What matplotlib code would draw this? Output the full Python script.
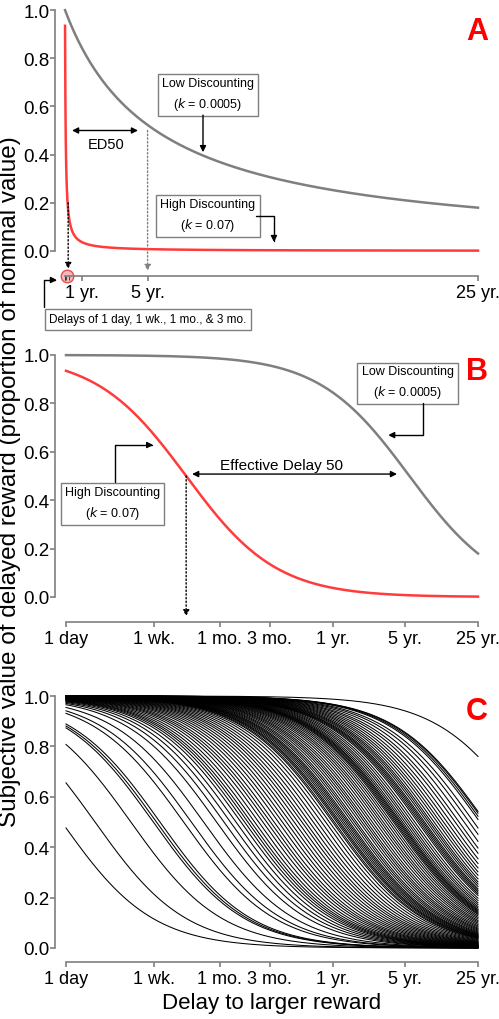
import numpy as np
import matplotlib
matplotlib.use('Agg')
import matplotlib.pyplot as plt
from matplotlib.ticker import FormatStrFormatter
from matplotlib.transforms import blended_transform_factory

plt.rcParams['font.family'] = ['Liberation Sans', 'DejaVu Sans']

W, H = 499, 1020
RED = '#ff3b3b'
GRAY = '#7f7f7f'

# discount rates of the two example curves
k_low = 0.0005
k_high = 0.07

# delays in days
max_delay = 9125
log_ticks = [1, 7, 30, 91, 365, 1825, 9125]
log_labels = ['1 day', '1 wk.', '1 mo.', '3 mo.', '1 yr.', '5 yr.', '25 yr.']
lin_ticks = [365, 1825, 9125]
lin_labels = ['1 yr.', '5 yr.', '25 yr.']
short_delays = [1, 7, 30, 91]

# panel C: ED50 (days, = 1/k) of each participant's curve
ed50_c = [0.91, 1.9, 4.2, 6.9, 7.4, 8.0, 13.5, 16, 21,
          28, 33, 38, 43, 48, 52, 56, 60, 65, 71, 78, 85, 92, 100, 110,
          120, 131, 143, 156, 170, 185, 200, 218, 238, 260, 285, 312, 340, 365,
          380, 400, 415, 430, 450, 470, 490, 510, 530, 560, 590, 620, 660,
          700, 740, 780, 830, 880, 940, 1000, 1060, 1120, 1190, 1260, 1330,
          1400, 1450, 1500, 1550, 1600, 1650, 1720, 1800, 1900, 2000, 2120,
          2250, 2400, 2500, 2600, 2700, 2800, 2950, 3100, 3250, 3450, 3700,
          3950, 4250, 4600, 5000, 5500, 6000, 6700, 7500, 8300,
          9500, 10000, 10500, 10800, 28900]


def hyp(k, d):
    return 1.0 / (1.0 + k * d)


def rect(left, right, top, bottom):
    return [left / W, 1 - bottom / H, (right - left) / W, (bottom - top) / H]


def style(ax, xoff, yoff):
    for s in ['top', 'right']:
        ax.spines[s].set_visible(False)
    for s in ['left', 'bottom']:
        ax.spines[s].set_color(GRAY)
        ax.spines[s].set_linewidth(1.2)
    ax.spines['left'].set_position(('outward', yoff * 0.72))
    ax.spines['bottom'].set_position(('outward', xoff * 0.72))
    ax.spines['left'].set_bounds(0, 1)
    ax.set_ylim(0, 1)
    ax.set_yticks(np.arange(0, 1.01, 0.2))
    ax.yaxis.set_major_formatter(FormatStrFormatter('%.1f'))
    ax.tick_params(colors=GRAY, labelcolor='black', length=3.5, width=1.2,
                   labelsize=13, pad=2)
    ax.tick_params(axis='y', labelsize=13.5, pad=0.5)


fig = plt.figure(figsize=(W / 100, H / 100), dpi=100)

box = dict(boxstyle='square,pad=0.35', fc='white', ec=GRAY, lw=1)
arr = dict(arrowstyle='-|>', color='black', lw=1, mutation_scale=9,
           shrinkA=0, shrinkB=0)

# ================= Panel A (linear delay) =================
axA = fig.add_axes(rect(65, 478, 11, 252))
style(axA, 25, 10)
d_lin = np.unique(np.concatenate([np.geomspace(1, max_delay, 600),
                                  np.linspace(1, max_delay, 600)]))
axA.plot(d_lin, hyp(k_low, d_lin), color=GRAY, lw=1.8, clip_on=False)
axA.plot(d_lin, hyp(k_high, d_lin), color=RED, lw=1.8, clip_on=False)
axA.set_xlim(0, max_delay)
axA.spines['bottom'].set_bounds(0, max_delay)
axA.set_xticks(lin_ticks)
axA.set_xticklabels(lin_labels)
axA.set_xticks(short_delays, minor=True)
axA.tick_params(axis='x', which='minor', length=3, color='#333333')

tr = blended_transform_factory(axA.transData, axA.transAxes)
axA.plot([44], [-25 / 241], 'o', ms=9, mfc='#f6b8b8', mec='#e05050',
         mew=1, transform=tr, clip_on=False, zorder=1)

axA.annotate('', xy=(155, 0.5), xytext=(1613, 0.5),
             arrowprops=dict(arr, arrowstyle='<|-|>'))
axA.text(917, 0.444, 'ED50', ha='center', va='center', fontsize=10.5)
axA.annotate('', xy=(1825, -0.083), xytext=(1825, 0.5),
             arrowprops=dict(arr, color=GRAY, ls=':'), annotation_clip=False)
axA.annotate('', xy=(70, -0.075), xytext=(70, 0.2),
             arrowprops=dict(arr, ls=':'), annotation_clip=False)

axA.text(3159, 0.651, 'Low Discounting\n($k$ = 0.0005)', ha='center',
         va='center', fontsize=9, bbox=box, linespacing=1.5)
axA.annotate('', xy=(3049, 0.41), xytext=(3049, 0.564), arrowprops=arr)
axA.text(3159, 0.149, 'High Discounting\n($k$ = 0.07)', ha='center',
         va='center', fontsize=9, bbox=box, linespacing=1.5)
axA.annotate('', xy=(4617, 0.037), xytext=(4219, 0.145),
             arrowprops=dict(arr, connectionstyle='angle,angleA=0,angleB=90,rad=0'))

fig.text(148 / W, 1 - 320.5 / H, 'Delays of 1 day, 1 wk., 1 mo., & 3 mo.',
         ha='center', va='center', fontsize=8.5,
         bbox=dict(box, pad=0.3))
axA.annotate('', xy=(57, H - 281), xytext=(44, H - 308),
             xycoords='figure pixels', textcoords='figure pixels',
             arrowprops=dict(arr, connectionstyle='angle,angleA=90,angleB=0,rad=0'))

# ================= Panel B (log delay) =================
d_log = np.geomspace(1, max_delay, 500)

axB = fig.add_axes(rect(66, 478, 356, 598))
style(axB, 25, 11)
axB.plot(d_log, hyp(k_low, d_log), color=GRAY, lw=1.8, clip_on=False)
axB.plot(d_log, hyp(k_high, d_log), color=RED, lw=1.8, clip_on=False)
axB.set_xscale('log')
axB.set_xlim(1, max_delay)
axB.set_xticks(log_ticks)
axB.set_xticklabels(log_labels)
axB.xaxis.set_minor_locator(plt.NullLocator())

axB.text(2.8, 0.388, 'High Discounting\n($k$ = 0.07)', ha='center',
         va='center', fontsize=9, bbox=box, linespacing=1.5)
axB.annotate('', xy=(6.9, 0.628), xytext=(2.96, 0.475),
             arrowprops=dict(arr, connectionstyle='angle,angleA=90,angleB=0,rad=0'))
axB.annotate('', xy=(16.3, 0.508), xytext=(1520, 0.508),
             arrowprops=dict(arr, arrowstyle='<|-|>'))
axB.text(117, 0.545, 'Effective Delay 50', ha='center', va='center',
         fontsize=11)
axB.annotate('', xy=(1 / k_high, -0.08), xytext=(1 / k_high, 0.5),
             arrowprops=dict(arr, ls=':'), annotation_clip=False)
axB.text(1923, 0.886, 'Low Discounting\n($k$ = 0.0005)', ha='center',
         va='center', fontsize=9, bbox=box, linespacing=1.5)
axB.annotate('', xy=(1248, 0.669), xytext=(2710, 0.80),
             arrowprops=dict(arr, connectionstyle='angle,angleA=90,angleB=0,rad=0'))

# ================= Panel C (many participants) =================
axC = fig.add_axes(rect(66, 478, 697, 949))
style(axC, 14, 11)
for ed in ed50_c:
    axC.plot(d_log, hyp(1.0 / ed, d_log), color='black', lw=0.75, clip_on=False)
axC.set_xscale('log')
axC.set_xlim(1, max_delay)
axC.set_xticks(log_ticks)
axC.set_xticklabels(log_labels)
axC.xaxis.set_minor_locator(plt.NullLocator())
axC.set_xlabel('Delay to larger reward', fontsize=16, labelpad=4)

# panel letters and shared y label
for letter, y in [('A', 32), ('B', 372), ('C', 712)]:
    fig.text(477 / W, 1 - y / H, letter, color='#ff0000', fontsize=22,
             fontweight='bold', ha='center', va='center')
fig.text(10.5 / W, 1 - 482 / H,
         'Subjective value of delayed reward (proportion of nominal value)',
         rotation=90, ha='center', va='center', fontsize=17.5)

fig.savefig('out.png', dpi=100)
